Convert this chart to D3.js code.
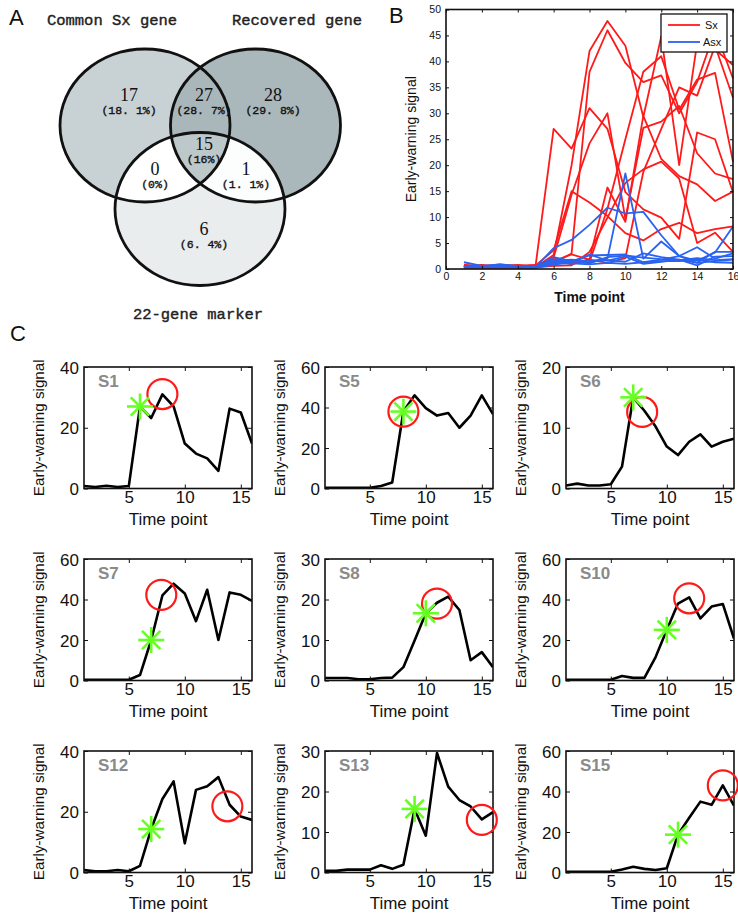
<!DOCTYPE html>
<html><head><meta charset="utf-8">
<script src="https://cdn.jsdelivr.net/npm/d3@7"></script>
<style>body{margin:0;background:#fff}</style>
</head><body>
<svg id="chart" width="738" height="913"></svg>
<script>
// ---------------- DATA ----------------
const vennSetNames = ["Common Sx gene", "Recovered gene", "22-gene marker"];
const vennRegionKeys = ["L", "LR", "R", "LRB", "LB", "RB", "B"];
const vennCounts = ["17", "27", "28", "15", "0", "1", "6"];
const vennPercents = ["(18. 1%)", "(28. 7%)", "(29. 8%)", "(16%)", "(0%)", "(1. 1%)", "(6. 4%)"];

const timePoints = [1, 2, 3, 4, 5, 6, 7, 8, 9, 10, 11, 12, 13, 14, 15, 16];

const S1  = [0.8, 0.5, 0.9, 0.5, 0.8, 27, 23.2, 31, 27, 14.8, 11.5, 9.9, 5.8, 26.3, 25, 14.8];
const S5  = [0.3, 0.3, 0.3, 0.3, 0.4, 1.2, 3, 38, 46, 39.7, 36, 37.3, 30, 36, 46, 36.7];
const S6  = [0.5, 0.8, 0.5, 0.5, 0.7, 3.6, 15, 12.8, 10.2, 6.9, 5.5, 7.7, 8.9, 6.9, 7.7, 8.2];
const S7  = [0.3, 0.3, 0.3, 0.3, 0.4, 2.7, 20, 42, 47.8, 43, 29.3, 44.8, 20, 43.5, 42.3, 39.3];
const S8  = [0.6, 0.6, 0.6, 0.3, 0.3, 0.6, 0.7, 3.3, 9.9, 16.6, 19.2, 20.7, 17.4, 5, 7, 3.3];
const S10 = [0.3, 0.3, 0.3, 0.3, 0.4, 2.2, 1.3, 1.3, 11.6, 25, 38, 41, 30.7, 36.5, 37.8, 20.7];
const S12 = [0.8, 0.4, 0.4, 0.8, 0.4, 2.2, 14.3, 24.2, 30, 9.6, 27.2, 28.4, 31.4, 22.3, 18.4, 17.3];
const S13 = [0.4, 0.4, 0.7, 0.7, 0.7, 1.8, 0.9, 1.9, 15.7, 9.1, 29.5, 21.2, 17.9, 16.3, 13.1, 14.9];
const S15 = [0.3, 0.3, 0.3, 0.3, 0.4, 1.5, 2.8, 1.8, 1.2, 2.1, 18.7, 27, 35, 33.4, 43, 33];

const A1 = [1.3, 0.6, 0.9, 0.6, 0.4, 4, 5.6, 8.5, 11.8, 10.7, 11, 6.5, 2.5, 1.2, 1.5, 1.8];
const A2 = [0.5, 0.5, 0.5, 0.4, 0.3, 1.5, 1.8, 1.5, 2, 18.4, 2, 5.3, 2.5, 4.2, 2, 3];
const A3 = [0.6, 0.5, 0.5, 0.4, 0.3, 2.3, 1.5, 2.6, 2.7, 2.8, 1.3, 1.8, 2.5, 1.6, 3.2, 8.2];
const A4 = [0.4, 0.4, 0.4, 0.4, 0.3, 1.2, 1.6, 1.4, 1.7, 1.4, 3, 2.3, 1.8, 1.2, 3.3, 3.3];
const A5 = [0.5, 0.4, 0.4, 0.3, 0.3, 1.8, 1.2, 2.8, 1.6, 2.4, 1, 1.4, 1.8, 0.7, 2.4, 2.5];
const A6 = [0.3, 0.3, 0.3, 0.3, 0.2, 1, 1.1, 0.9, 1.2, 1, 1.3, 1.5, 1.5, 1.8, 1.3, 1.2];
const A7 = [0.4, 0.4, 0.4, 0.3, 0.3, 0.8, 1.5, 1.1, 2.3, 2.6, 2.2, 1.9, 1.7, 2.1, 1.7, 1.9];

const sxSeries = [S1, S5, S6, S7, S8, S10, S12, S13, S15];
const asxSeries = [A1, A2, A3, A4, A5, A6, A7];
const legendLabels = ["Sx", "Asx"];

const subjectNames = ["S1", "S5", "S6", "S7", "S8", "S10", "S12", "S13", "S15"];
const subjectYMax = [40, 60, 20, 60, 30, 60, 40, 30, 60];
const subjectYTicks = [
  [0, 20, 40], [0, 20, 40, 60], [0, 10, 20],
  [0, 20, 40, 60], [0, 10, 20, 30], [0, 20, 40, 60],
  [0, 20, 40], [0, 10, 20, 30], [0, 20, 40, 60]
];
const starTime = [6, 8, 7, 7, 10, 10, 7, 9, 11];
const starValue = [27, 38, 15, 20, 16.6, 25, 14.3, 15.7, 18.7];
const circleTime = [8, 8, 7.8, 7.9, 11, 12, 13.8, 15, 15];
const circleValue = [31.1, 38, 12.6, 42.3, 19, 40.6, 21.8, 13, 43];

const bXTicks = [0, 2, 4, 6, 8, 10, 12, 14, 16];
const bYTicks = [0, 5, 10, 15, 20, 25, 30, 35, 40, 45, 50];
const cXTicks = [5, 10, 15];

// ---------------- DRAW ----------------
const svg = d3.select("#chart");
const FONT = "Arial, 'Liberation Sans', sans-serif";

// Panel letters
[["A", 9, 25], ["B", 389, 23], ["C", 10, 341]].forEach(([t, x, y]) => {
  svg.append("text").attr("x", x).attr("y", y).text(t)
    .attr("font-family", FONT).attr("font-size", 22).attr("fill", "#111");
});

// ---- Panel A: Venn ----
(function venn() {
  const g = svg.append("g");
  const rx = 85, ry = 76.5;
  const C = { L: [145, 125.5], R: [255.5, 125.5], B: [200, 209] };
  const defs = svg.append("defs");
  ["L", "R", "B"].forEach(k => {
    defs.append("clipPath").attr("id", "clip" + k)
      .append("ellipse").attr("cx", C[k][0]).attr("cy", C[k][1]).attr("rx", rx).attr("ry", ry);
  });
  const ell = (k, fill, parent) => (parent || g).append("ellipse")
    .attr("cx", C[k][0]).attr("cy", C[k][1]).attr("rx", rx).attr("ry", ry).attr("fill", fill);
  ell("L", "#c8d2d5");
  ell("R", "#aab7bb");
  ell("B", "#e9eded");
  const gL = g.append("g").attr("clip-path", "url(#clipL)");
  ell("R", "#a9b6ba", gL);
  ell("B", "#ffffff", gL);
  const gR = g.append("g").attr("clip-path", "url(#clipR)");
  const gRB = gR.append("g").attr("clip-path", "url(#clipB)");
  gRB.append("rect").attr("x", 0).attr("y", 0).attr("width", 370).attr("height", 300).attr("fill", "#fcfdfd");
  const gC = g.append("g").attr("clip-path", "url(#clipL)").append("g").attr("clip-path", "url(#clipR)");
  ell("B", "#bdc8cb", gC);
  ["L", "R", "B"].forEach(k => {
    g.append("ellipse").attr("cx", C[k][0]).attr("cy", C[k][1]).attr("rx", rx).attr("ry", ry)
      .attr("fill", "none").attr("stroke", "#111").attr("stroke-width", 2.8);
  });
  const pos = { L: [129, 97], LR: [204, 97], R: [273, 97], LRB: [204, 146], LB: [155, 171], RB: [246, 171], B: [204, 231] };
  vennRegionKeys.forEach((k, i) => {
    g.append("text").attr("x", pos[k][0]).attr("y", pos[k][1] + 4).attr("text-anchor", "middle")
      .attr("font-family", "'Liberation Serif', 'DejaVu Serif', serif").attr("font-size", 18)
      .attr("fill", "#111").text(vennCounts[i]);
    g.append("text").attr("x", pos[k][0]).attr("y", pos[k][1] + 17).attr("text-anchor", "middle")
      .attr("font-family", "'Liberation Mono', monospace").attr("font-size", 11.5)
      .attr("stroke", "#111").attr("stroke-width", 0.35)
      .attr("fill", "#111").text(vennPercents[i]);
  });
  const lab = [[112, 25], [297, 25], [198, 319]];
  vennSetNames.forEach((n, i) => {
    g.append("text").attr("x", lab[i][0]).attr("y", lab[i][1]).attr("text-anchor", "middle")
      .attr("font-family", "'Liberation Mono', monospace").attr("font-size", 15.5)
      .attr("stroke", "#222").attr("stroke-width", 0.4)
      .attr("fill", "#222").text(n);
  });
})();

// generic axis box
function boxAxes(g, x, y, w, h, xTicks, yTicks, fontSize, tickLen) {
  const gx = g.append("g").attr("transform", `translate(0,${h})`)
    .call(d3.axisBottom(x).tickValues(xTicks).tickSizeInner(-tickLen).tickSizeOuter(0).tickPadding(4));
  const gy = g.append("g")
    .call(d3.axisLeft(y).tickValues(yTicks).tickSizeInner(-tickLen).tickSizeOuter(0).tickPadding(5));
  const gt = g.append("g")
    .call(d3.axisTop(x).tickValues(xTicks).tickSizeInner(-tickLen).tickSizeOuter(0).tickFormat(""));
  const gr = g.append("g").attr("transform", `translate(${w},0)`)
    .call(d3.axisRight(y).tickValues(yTicks).tickSizeInner(-tickLen).tickSizeOuter(0).tickFormat(""));
  [gx, gy, gt, gr].forEach(a => {
    a.selectAll(".domain").remove();
    a.selectAll("line").attr("stroke", "#111").attr("stroke-width", 1);
    a.selectAll("text").attr("font-family", FONT).attr("font-size", fontSize).attr("fill", "#111");
  });
  g.append("rect").attr("width", w).attr("height", h).attr("fill", "none")
    .attr("stroke", "#111").attr("stroke-width", 1.6);
  return { gx, gy };
}

// ---- Panel B ----
(function panelB() {
  const L = 446, T = 9.5, W = 287, H = 259.5;
  const g = svg.append("g").attr("transform", `translate(${L},${T})`);
  const x = d3.scaleLinear().domain([0, 16]).range([0, W]);
  const y = d3.scaleLinear().domain([0, 50]).range([H, 0]);
  const line = d3.line().x((d, i) => x(timePoints[i])).y(d => y(d));
  sxSeries.forEach(s => g.append("path").attr("d", line(s)).attr("fill", "none")
    .attr("stroke", "#ff1a1a").attr("stroke-width", 1.8).attr("stroke-linejoin", "round"));
  asxSeries.forEach(s => g.append("path").attr("d", line(s)).attr("fill", "none")
    .attr("stroke", "#2a63f0").attr("stroke-width", 1.8).attr("stroke-linejoin", "round"));
  boxAxes(g, x, y, W, H, bXTicks, bYTicks, 10.5, 3);
  // legend
  const lg = svg.append("g").attr("transform", "translate(661,14)");
  lg.append("rect").attr("width", 66).attr("height", 38).attr("fill", "#fff").attr("stroke", "#111").attr("stroke-width", 1.3);
  [["#ff1a1a", legendLabels[0], 11], ["#2a63f0", legendLabels[1], 28]].forEach(([c, t, yy]) => {
    lg.append("line").attr("x1", 7).attr("x2", 39).attr("y1", yy).attr("y2", yy).attr("stroke", c).attr("stroke-width", 1.8);
    lg.append("text").attr("x", t.length < 3 ? 44 : 42).attr("y", yy + 4).attr("font-family", FONT)
      .attr("font-size", 11).attr("fill", "#111").text(t);
  });
  svg.append("text").attr("transform", `translate(416,${T + H / 2}) rotate(-90)`).attr("text-anchor", "middle")
    .attr("font-family", FONT).attr("font-size", 14).attr("fill", "#111").text("Early-warning signal");
  svg.append("text").attr("x", L + W / 2).attr("y", 302).attr("text-anchor", "middle")
    .attr("font-family", FONT).attr("font-size", 14).attr("font-weight", "bold").attr("fill", "#111").text("Time point");
})();

// ---- Panel C ----
(function panelC() {
  const colL = [84, 325, 566], rowT = [367, 559, 751], W = 168, H = 121.5;
  subjectNames.forEach((name, i) => {
    const L = colL[i % 3], T = rowT[Math.floor(i / 3)];
    const g = svg.append("g").attr("transform", `translate(${L},${T})`);
    const x = d3.scaleLinear().domain([1, 16]).range([0, W]);
    const y = d3.scaleLinear().domain([0, subjectYMax[i]]).range([H, 0]);
    g.append("defs").append("clipPath").attr("id", "cc" + i).append("rect").attr("width", W).attr("height", H);
    const line = d3.line().x((d, j) => x(timePoints[j])).y(d => y(d));
    g.append("path").attr("d", line(sxSeries[i])).attr("fill", "none").attr("clip-path", `url(#cc${i})`)
      .attr("stroke", "#000").attr("stroke-width", 2.6).attr("stroke-linejoin", "round");
    const ax = boxAxes(g, x, y, W, H, cXTicks, subjectYTicks[i], 17, 4);
    ax.gx.selectAll("text").attr("dy", "0.62em");
    ax.gy.selectAll("text").attr("dy", "0.36em");
    g.append("text").attr("x", 14).attr("y", 20).attr("font-family", FONT).attr("font-size", 17)
      .attr("font-weight", "bold").attr("fill", "#8a8a8a").text(name);
    // red circle
    g.append("circle").attr("cx", x(circleTime[i])).attr("cy", y(circleValue[i])).attr("r", 15)
      .attr("fill", "none").attr("stroke", "#ff1a1a").attr("stroke-width", 2.2);
    // green star
    const cx = x(starTime[i]), cy = y(starValue[i]), r = 13;
    [0, 45, 90, 135].forEach(a => {
      const dx = r * Math.cos(a * Math.PI / 180), dy = r * Math.sin(a * Math.PI / 180);
      g.append("line").attr("x1", cx - dx).attr("y1", cy - dy).attr("x2", cx + dx).attr("y2", cy + dy)
        .attr("stroke", "#66ff22").attr("stroke-width", 2.6);
    });
    svg.append("text").attr("transform", `translate(${L - 40},${T + H / 2}) rotate(-90)`).attr("text-anchor", "middle")
      .attr("font-family", FONT).attr("font-size", 15.2).attr("fill", "#111").text("Early-warning signal");
    svg.append("text").attr("x", L + W / 2).attr("y", T + H + 36).attr("text-anchor", "middle")
      .attr("font-family", FONT).attr("font-size", 17).attr("fill", "#111").text("Time point");
  });
})();
</script>
</body></html>
